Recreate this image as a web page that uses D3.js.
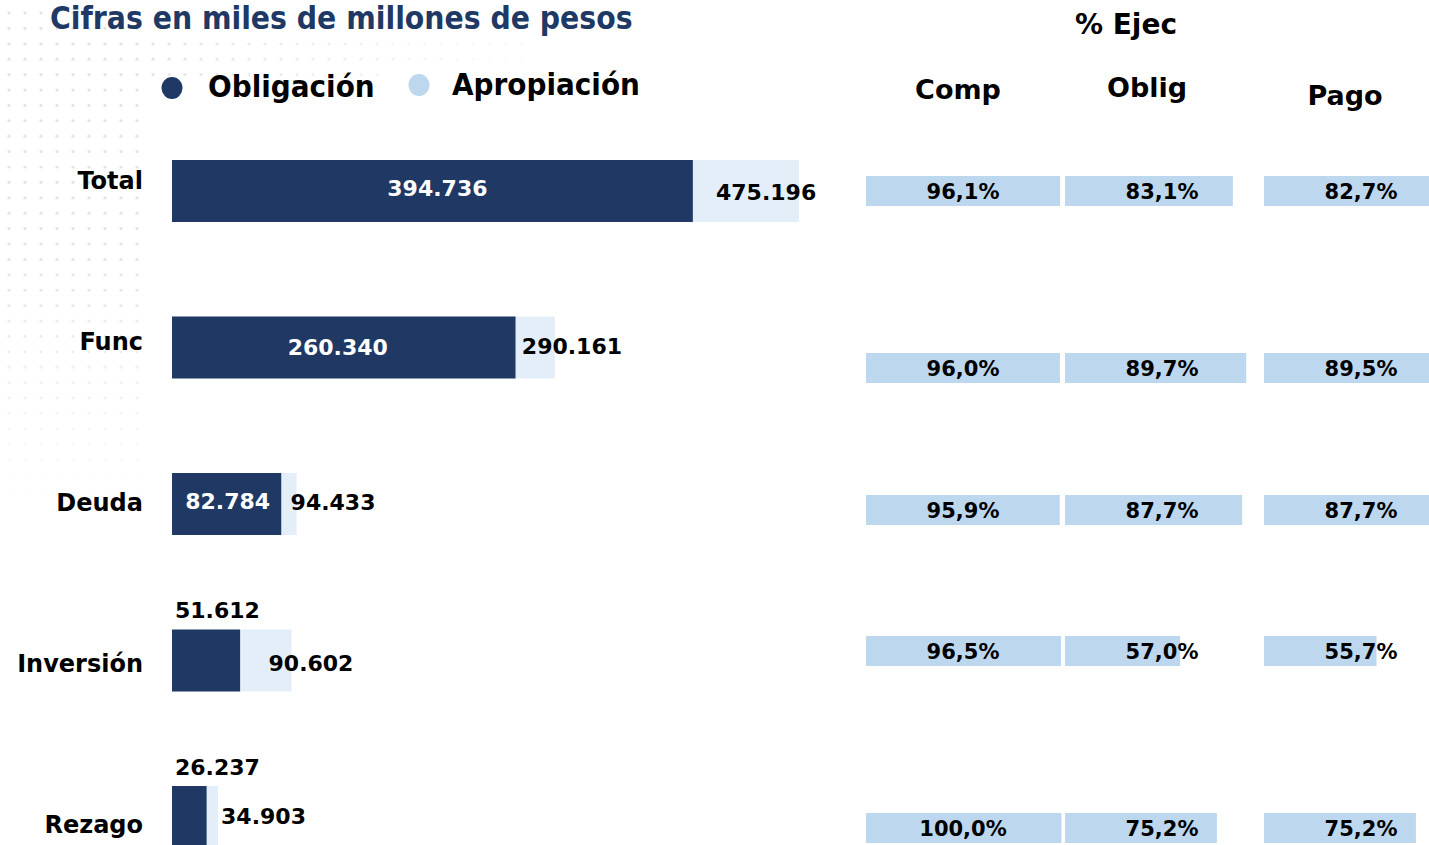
<!DOCTYPE html>
<html>
<head>
<meta charset="utf-8">
<script src="https://cdn.jsdelivr.net/npm/d3@7"></script>
<style>
  html, body { margin: 0; padding: 0; background: #fff; }
  svg { display: block; }
  text { font-family: "DejaVu Sans", Verdana, sans-serif; font-weight: bold; }
</style>
</head>
<body>
<svg id="chart" width="1429" height="845"></svg>
<script>
// ---- Data ----
const categories = ["Total", "Func", "Deuda", "Inversión", "Rezago"];
const obligacion = [394736, 260340, 82784, 51612, 26237];
const apropiacion = [475196, 290161, 94433, 90602, 34903];
const pctColumns = ["Comp", "Oblig", "Pago"];
const pctComp = [96.1, 96.0, 95.9, 96.5, 100.0];
const pctOblig = [83.1, 89.7, 87.7, 57.0, 75.2];
const pctPago = [82.7, 89.5, 87.7, 55.7, 75.2];
const legendLabels = ["Obligación", "Apropiación"];
const titleText = "Cifras en miles de millones de pesos";
const pctHeader = "% Ejec";

// ---- Layout constants ----
const W = 1429, H = 845;
const navy = "#203864", lightBar = "#E3EEF8", pctBlue = "#BDD7EE";
const aprLabelDx = [-83, -33, -6, -23, 3];   // label offsets from bar end
const aprLabelDy = [1, -1, -2, 3, -1];
const oblLabelDx = [5, -6, 1, 0, 0];
const oblLabelDy = [-3, 0, -3, 0, 0];
const pctRowCenters = [191, 368, 510, 651, 828];
const headerDx = [0, -10, -11];
const headerDy = [0, -2, 6];

const locale = d3.formatLocale({decimal: ",", thousands: ".", grouping: [3], currency: ["$", ""]});
const fmtVal = locale.format(",d");
const fmtPct = v => locale.format(",.1f")(v) + "%";

const svg = d3.select("#chart");

// ---- decorative dot pattern ----
const dots = svg.append("g");
for (let r = 0; r < 32; r++) {
  const y = 13 + r * 15.4;
  let maxX = 140;
  if (r >= 2 && r <= 3) maxX = 530;
  if (r === 4) maxX = 390;
  for (let c = 0; ; c++) {
    const x = 9 + c * 16;
    if (x > maxX) break;
    let op = 1 - Math.max(0, (y - 250) / 260);
    if (x > 140) op *= Math.max(0.15, 1 - (x - 140) / 420);
    dots.append("circle").attr("cx", x).attr("cy", y).attr("r", 1.6)
      .attr("fill", "#e4e4e4").attr("opacity", Math.max(0, op));
  }
}

// ---- Title ----
svg.append("text").attr("x", 50).attr("y", 29)
  .attr("fill", navy).style("font-family", "'DejaVu Sans Condensed', 'DejaVu Sans', sans-serif")
  .attr("font-size", 31.5).text(titleText);

// ---- Legend ----
const legend = svg.append("g");
const legendItems = [
  {label: legendLabels[0], color: navy, cx: 172, cy: 88, tx: 208, ty: 97},
  {label: legendLabels[1], color: pctBlue, cx: 419, cy: 85, tx: 452, ty: 95}
];
legendItems.forEach(d => {
  legend.append("ellipse").attr("cx", d.cx).attr("cy", d.cy).attr("rx", 10.5).attr("ry", 11).attr("fill", d.color);
  legend.append("text").attr("x", d.tx).attr("y", d.ty)
    .style("font-family", "'DejaVu Sans Condensed', 'DejaVu Sans', sans-serif")
    .attr("font-size", 31).attr("fill", "#000").text(d.label);
});

// ---- Main bar chart ----
const x = d3.scaleLinear().domain([0, d3.max(apropiacion)]).range([172, 799]);
const y = d3.scaleBand().domain(categories).range([160, 848]).paddingInner(0.604).paddingOuter(0);
const yLab = d3.scalePoint().domain(categories).range([180, 824]);

const rows = categories.map((c, i) => ({cat: c, obl: obligacion[i], apr: apropiacion[i], i}));

const g = svg.append("g");
g.selectAll("rect.apr").data(rows).join("rect").attr("class", "apr")
  .attr("x", x(0)).attr("y", d => y(d.cat))
  .attr("width", d => x(d.apr) - x(0)).attr("height", y.bandwidth())
  .attr("fill", lightBar);
g.selectAll("rect.obl").data(rows).join("rect").attr("class", "obl")
  .attr("x", x(0)).attr("y", d => y(d.cat))
  .attr("width", d => x(d.obl) - x(0)).attr("height", y.bandwidth())
  .attr("fill", navy);

// category labels
g.selectAll("text.cat").data(rows).join("text").attr("class", "cat")
  .attr("x", 143).attr("y", d => yLab(d.cat)).attr("dy", "0.36em")
  .attr("text-anchor", "end").attr("font-size", 24).attr("fill", "#000")
  .text(d => d.cat);

// obligation labels
g.selectAll("text.obl").data(rows).join("text").attr("class", "obl")
  .each(function(d) {
    const w = x(d.obl) - x(0);
    const t = d3.select(this).attr("font-size", 22).text(fmtVal(d.obl));
    if (w > 95) {
      t.attr("x", (x(0) + x(d.obl)) / 2 + oblLabelDx[d.i])
        .attr("y", y(d.cat) + y.bandwidth() / 2 + oblLabelDy[d.i])
        .attr("dy", "0.36em").attr("text-anchor", "middle").attr("fill", "#fff");
    } else {
      t.attr("x", x(0) + 3).attr("y", y(d.cat) - 19)
        .attr("dy", "0.36em").attr("text-anchor", "start").attr("fill", "#000");
    }
  });

// apropiacion labels
g.selectAll("text.aprl").data(rows).join("text").attr("class", "aprl")
  .attr("x", d => x(d.apr) + aprLabelDx[d.i])
  .attr("y", d => y(d.cat) + y.bandwidth() / 2 + aprLabelDy[d.i])
  .attr("dy", "0.36em").attr("font-size", 22).attr("fill", "#000")
  .text(d => fmtVal(d.apr));

// ---- Percent execution table ----
const colX = d3.scaleBand().domain(pctColumns).range([866, 866 + 3 * 199]).paddingInner(0);
const pctW = d3.scaleLinear().domain([0, 100]).range([0, 202]);
const pctY = d3.scaleOrdinal().domain(categories).range(pctRowCenters);
const pctBarH = 30;
const pctSeries = [pctComp, pctOblig, pctPago];

svg.append("text").attr("x", 1126).attr("y", 34).attr("text-anchor", "middle")
  .attr("font-size", 28).attr("fill", "#000").text(pctHeader);

const defs = svg.append("defs");
pctColumns.forEach((col, ci) => {
  defs.append("clipPath").attr("id", "clip" + ci).append("rect")
    .attr("x", colX(col)).attr("y", 0).attr("width", 195.5).attr("height", H);

  svg.append("text").attr("x", colX(col) + 92 + headerDx[ci]).attr("y", 99 + headerDy[ci])
    .attr("text-anchor", "middle").attr("font-size", 27).attr("fill", "#000").text(col);

  const cg = svg.append("g");
  const data = categories.map((c, i) => ({cat: c, v: pctSeries[ci][i]}));
  cg.append("g").attr("clip-path", "url(#clip" + ci + ")")
    .selectAll("rect").data(data).join("rect")
    .attr("x", colX(col)).attr("y", d => pctY(d.cat) - pctBarH / 2)
    .attr("width", d => pctW(d.v)).attr("height", pctBarH).attr("fill", pctBlue);
  cg.selectAll("text").data(data).join("text")
    .attr("x", colX(col) + 97).attr("y", d => pctY(d.cat)).attr("dy", "0.36em")
    .attr("text-anchor", "middle").attr("font-size", 21).attr("fill", "#000")
    .text(d => fmtPct(d.v));
});
</script>
</body>
</html>
